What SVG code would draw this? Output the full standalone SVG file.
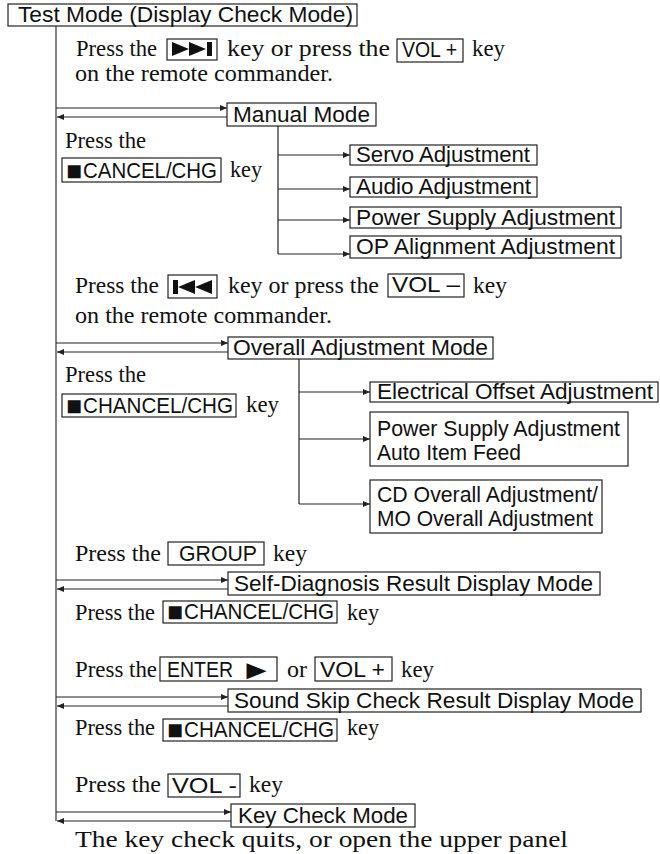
<svg xmlns="http://www.w3.org/2000/svg" width="660" height="854" viewBox="0 0 660 854">
<style>
.s{font-family:"Liberation Sans",Arial,"DejaVu Sans",sans-serif;font-size:22px;fill:#111}
.q{font-family:"Liberation Sans",Arial,"DejaVu Sans",sans-serif;font-size:27px;fill:#111}
.t{font-family:"Liberation Serif","Times New Roman",serif;font-size:24px;fill:#111}
.b{fill:#fff;stroke:#222;stroke-width:1.2}
.c{stroke:#222;stroke-width:1.2;fill:none}
.m{stroke:#666;stroke-width:1.6;fill:none}
.i{fill:#111}
</style>
<defs>
<marker id="ah" markerUnits="userSpaceOnUse" markerWidth="7" markerHeight="6" refX="7" refY="3" orient="auto">
<path d="M0,0 L7,3 L0,6 z" fill="#222"/>
</marker>
</defs>
<g id="connectors">
<line class="m" x1="56" y1="26" x2="56" y2="821"/>
<line class="c" x1="56" y1="108" x2="227" y2="108" marker-end="url(#ah)"/>
<line class="c" x1="227" y1="117" x2="57" y2="117" marker-end="url(#ah)"/>
<line class="c" x1="278" y1="126" x2="278" y2="254"/>
<line class="c" x1="278" y1="155" x2="350" y2="155" marker-end="url(#ah)"/>
<line class="c" x1="278" y1="189" x2="350" y2="189" marker-end="url(#ah)"/>
<line class="c" x1="278" y1="220" x2="350" y2="220" marker-end="url(#ah)"/>
<line class="c" x1="278" y1="254" x2="350" y2="254" marker-end="url(#ah)"/>
<line class="c" x1="56" y1="343" x2="228" y2="343" marker-end="url(#ah)"/>
<line class="c" x1="228" y1="352" x2="57" y2="352" marker-end="url(#ah)"/>
<line class="c" x1="299" y1="359" x2="299" y2="504"/>
<line class="c" x1="299" y1="392" x2="370" y2="392" marker-end="url(#ah)"/>
<line class="c" x1="299" y1="439" x2="370" y2="439" marker-end="url(#ah)"/>
<line class="c" x1="299" y1="504" x2="370" y2="504" marker-end="url(#ah)"/>
<line class="c" x1="56" y1="580" x2="228" y2="580" marker-end="url(#ah)"/>
<line class="c" x1="228" y1="589" x2="57" y2="589" marker-end="url(#ah)"/>
<line class="c" x1="56" y1="697" x2="228" y2="697" marker-end="url(#ah)"/>
<line class="c" x1="228" y1="706" x2="57" y2="706" marker-end="url(#ah)"/>
<line class="c" x1="56" y1="812" x2="231" y2="812" marker-end="url(#ah)"/>
<line class="c" x1="231" y1="821" x2="57" y2="821" marker-end="url(#ah)"/>
</g>
<g id="test-mode">
<rect class="b" x="8" y="4" width="349" height="22"/>
<text class="s" x="18" y="22" textLength="335" lengthAdjust="spacingAndGlyphs">Test Mode (Display Check Mode)</text>
</g>
<g id="instr-1">
<text class="t" x="76" y="56" textLength="81" lengthAdjust="spacingAndGlyphs">Press the</text>
<rect class="b" x="167" y="39" width="50" height="21"/>
<polygon class="i" points="172,42 189,49 172,56"/>
<polygon class="i" points="189,42 206,49 189,56"/>
<rect class="i" x="207" y="42" width="5" height="14"/>
<text class="t" x="227" y="56" textLength="163" lengthAdjust="spacingAndGlyphs">key or press the</text>
<rect class="b" x="397" y="39" width="66" height="23"/>
<text class="s" x="402" y="57" textLength="55" lengthAdjust="spacingAndGlyphs">VOL +</text>
<text class="t" x="472" y="56" textLength="33" lengthAdjust="spacingAndGlyphs">key</text>
<text class="t" x="75" y="81" textLength="258" lengthAdjust="spacingAndGlyphs">on the remote commander.</text>
</g>
<g id="manual-mode">
<rect class="b" x="227" y="103" width="149" height="23"/>
<text class="s" x="233" y="122" textLength="137" lengthAdjust="spacingAndGlyphs">Manual Mode</text>
</g>
<g id="instr-cancel-1">
<text class="t" x="65" y="148" textLength="81" lengthAdjust="spacingAndGlyphs">Press the</text>
<rect class="b" x="62" y="158" width="159" height="24"/>
<text class="q" x="66" y="180" textLength="16" lengthAdjust="spacingAndGlyphs">■</text>
<text class="s" x="83" y="178" textLength="134" lengthAdjust="spacingAndGlyphs">CANCEL/CHG</text>
<text class="t" x="230" y="177" textLength="32" lengthAdjust="spacingAndGlyphs">key</text>
</g>
<g id="servo">
<rect class="b" x="350" y="145" width="187" height="20"/>
<text class="s" x="356" y="162" textLength="174" lengthAdjust="spacingAndGlyphs">Servo Adjustment</text>
</g>
<g id="audio">
<rect class="b" x="350" y="177" width="187" height="20"/>
<text class="s" x="356" y="194" textLength="175" lengthAdjust="spacingAndGlyphs">Audio Adjustment</text>
</g>
<g id="power">
<rect class="b" x="350" y="207" width="271" height="21"/>
<text class="s" x="356" y="225" textLength="259" lengthAdjust="spacingAndGlyphs">Power Supply Adjustment</text>
</g>
<g id="op">
<rect class="b" x="350" y="236" width="271" height="22"/>
<text class="s" x="356" y="254" textLength="259" lengthAdjust="spacingAndGlyphs">OP Alignment Adjustment</text>
</g>
<g id="instr-2">
<text class="t" x="75" y="293" textLength="84" lengthAdjust="spacingAndGlyphs">Press the</text>
<rect class="b" x="168" y="275" width="49" height="23"/>
<rect class="i" x="173" y="280" width="5" height="14"/>
<polygon class="i" points="178,287 195,280 195,294"/>
<polygon class="i" points="195,287 212,280 212,294"/>
<text class="t" x="228" y="293" textLength="151" lengthAdjust="spacingAndGlyphs">key or press the</text>
<rect class="b" x="388" y="274" width="76" height="23"/>
<text class="s" x="392" y="292" textLength="68" lengthAdjust="spacingAndGlyphs">VOL –</text>
<text class="t" x="473" y="293" textLength="34" lengthAdjust="spacingAndGlyphs">key</text>
<text class="t" x="75" y="323" textLength="257" lengthAdjust="spacingAndGlyphs">on the remote commander.</text>
</g>
<g id="overall-mode">
<rect class="b" x="228" y="337" width="265" height="22"/>
<text class="s" x="233" y="355" textLength="255" lengthAdjust="spacingAndGlyphs">Overall Adjustment Mode</text>
</g>
<g id="instr-cancel-2">
<text class="t" x="65" y="382" textLength="81" lengthAdjust="spacingAndGlyphs">Press the</text>
<rect class="b" x="62" y="394" width="174" height="23"/>
<text class="q" x="66" y="415" textLength="16" lengthAdjust="spacingAndGlyphs">■</text>
<text class="s" x="83" y="413" textLength="150" lengthAdjust="spacingAndGlyphs">CHANCEL/CHG</text>
<text class="t" x="246" y="412" textLength="33" lengthAdjust="spacingAndGlyphs">key</text>
</g>
<g id="electrical">
<rect class="b" x="370" y="382" width="288" height="20"/>
<text class="s" x="377" y="399" textLength="276" lengthAdjust="spacingAndGlyphs">Electrical Offset Adjustment</text>
</g>
<g id="power-auto">
<rect class="b" x="370" y="412" width="258" height="54"/>
<text class="s" x="377" y="436" textLength="243" lengthAdjust="spacingAndGlyphs">Power Supply Adjustment</text>
<text class="s" x="377" y="460" textLength="144" lengthAdjust="spacingAndGlyphs">Auto Item Feed</text>
</g>
<g id="cd-mo">
<rect class="b" x="370" y="480" width="232" height="53"/>
<text class="s" x="377" y="502" textLength="221" lengthAdjust="spacingAndGlyphs">CD Overall Adjustment/</text>
<text class="s" x="377" y="526" textLength="216" lengthAdjust="spacingAndGlyphs">MO Overall Adjustment</text>
</g>
<g id="instr-group">
<text class="t" x="75" y="561" textLength="86" lengthAdjust="spacingAndGlyphs">Press the</text>
<rect class="b" x="168" y="542" width="96" height="23"/>
<text class="s" x="179" y="561" textLength="78" lengthAdjust="spacingAndGlyphs">GROUP</text>
<text class="t" x="273" y="561" textLength="34" lengthAdjust="spacingAndGlyphs">key</text>
</g>
<g id="self-diagnosis">
<rect class="b" x="228" y="572" width="372" height="23"/>
<text class="s" x="234" y="591" textLength="359" lengthAdjust="spacingAndGlyphs">Self-Diagnosis Result Display Mode</text>
</g>
<g id="instr-cancel-3">
<text class="t" x="75" y="620" textLength="80" lengthAdjust="spacingAndGlyphs">Press the</text>
<rect class="b" x="163" y="601" width="174" height="22"/>
<text class="q" x="167" y="621" textLength="16" lengthAdjust="spacingAndGlyphs">■</text>
<text class="s" x="184" y="619" textLength="150" lengthAdjust="spacingAndGlyphs">CHANCEL/CHG</text>
<text class="t" x="347" y="620" textLength="32" lengthAdjust="spacingAndGlyphs">key</text>
</g>
<g id="instr-enter">
<text class="t" x="75" y="677" textLength="82" lengthAdjust="spacingAndGlyphs">Press the</text>
<rect class="b" x="160" y="657" width="117" height="24"/>
<text class="s" x="167" y="677" textLength="66" lengthAdjust="spacingAndGlyphs">ENTER</text>
<text class="q" x="240" y="679" textLength="33" lengthAdjust="spacingAndGlyphs">►</text>
<text class="t" x="287" y="677" textLength="20" lengthAdjust="spacingAndGlyphs">or</text>
<rect class="b" x="315" y="657" width="77" height="24"/>
<text class="s" x="320" y="677" textLength="65" lengthAdjust="spacingAndGlyphs">VOL +</text>
<text class="t" x="401" y="677" textLength="33" lengthAdjust="spacingAndGlyphs">key</text>
</g>
<g id="sound-skip">
<rect class="b" x="228" y="689" width="413" height="23"/>
<text class="s" x="234" y="708" textLength="400" lengthAdjust="spacingAndGlyphs">Sound Skip Check Result Display Mode</text>
</g>
<g id="instr-cancel-4">
<text class="t" x="75" y="735" textLength="80" lengthAdjust="spacingAndGlyphs">Press the</text>
<rect class="b" x="163" y="719" width="174" height="22"/>
<text class="q" x="167" y="739" textLength="16" lengthAdjust="spacingAndGlyphs">■</text>
<text class="s" x="184" y="737" textLength="150" lengthAdjust="spacingAndGlyphs">CHANCEL/CHG</text>
<text class="t" x="347" y="735" textLength="32" lengthAdjust="spacingAndGlyphs">key</text>
</g>
<g id="instr-vol-minus">
<text class="t" x="75" y="792" textLength="86" lengthAdjust="spacingAndGlyphs">Press the</text>
<rect class="b" x="168" y="774" width="72" height="23"/>
<text class="s" x="172" y="793" textLength="65" lengthAdjust="spacingAndGlyphs">VOL -</text>
<text class="t" x="249" y="792" textLength="34" lengthAdjust="spacingAndGlyphs">key</text>
</g>
<g id="key-check">
<rect class="b" x="231" y="804" width="184" height="23"/>
<text class="s" x="238" y="823" textLength="170" lengthAdjust="spacingAndGlyphs">Key Check Mode</text>
</g>
<g id="final-note">
<text class="t" x="75" y="847" textLength="493" lengthAdjust="spacingAndGlyphs">The key check quits, or open the upper panel</text>
</g>
</svg>
